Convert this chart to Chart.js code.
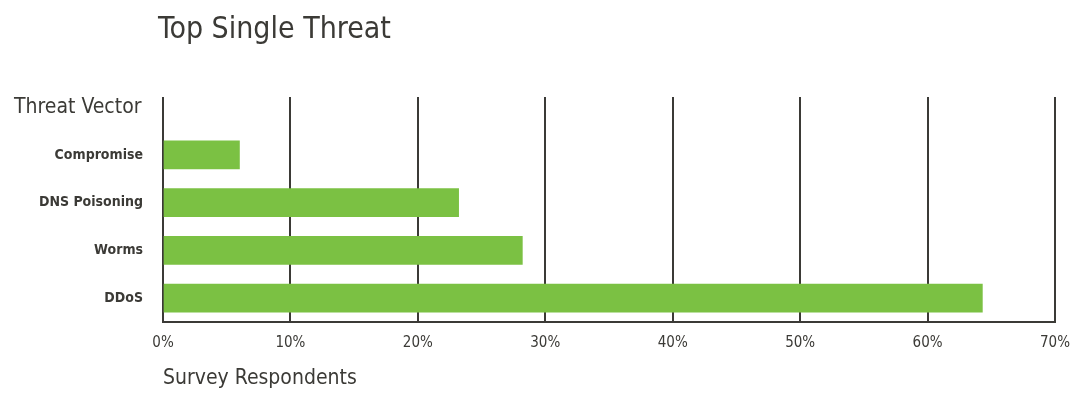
<!DOCTYPE html>
<html>
<head>
<meta charset="utf-8">
<script src="https://cdn.jsdelivr.net/npm/chart.js@4.4.0/dist/chart.umd.min.js"></script>
<style>
  html, body { margin: 0; padding: 0; background: #fff; }
  #wrap { width: 1075px; height: 395px; }
</style>
</head>
<body>
<div id="wrap"><canvas id="myChart"></canvas></div>
<script>
const categories = ['Compromise', 'DNS Poisoning', 'Worms', 'DDoS'];
const respondents = [6.0, 23.2, 28.2, 64.3];
const tickValues = [0, 10, 20, 30, 40, 50, 60, 70];

const FONT = "'DejaVu Sans Condensed', 'Liberation Sans Narrow', sans-serif";
const INK = '#3b3a36';

// extra labels + gridlines running up above the bars
const extras = {
    id: 'extras',
    beforeDatasetsDraw(chart) {
        const c = chart.ctx;
        const x = chart.scales.x;
        const top = chart.chartArea.top;
        c.save();
        c.strokeStyle = INK;
        c.lineWidth = 2;
        tickValues.forEach(v => {
            const px = Math.round(x.getPixelForValue(v));
            c.beginPath();
            c.moveTo(px, top - 34);
            c.lineTo(px, top);
            c.stroke();
        });
        c.restore();
    },
    afterDraw(chart) {
        const c = chart.ctx;
        c.save();
        c.fillStyle = INK;
        c.textBaseline = 'middle';
        c.textAlign = 'left';
        c.font = '30px ' + FONT;
        c.fillText('Top Single Threat', 158, 30);
        c.font = '21px ' + FONT;
        c.fillText('Threat Vector', 14, 108);
        c.restore();
    }
};

const ctx = document.getElementById('myChart');
const myChart = new Chart(ctx, {
    type: 'bar',
    data: {
        labels: categories,
        datasets: [{
            label: 'Survey Respondents',
            data: respondents,
            backgroundColor: '#7bc143',
            borderWidth: 0,
            barThickness: 28
        }]
    },
    options: {
        indexAxis: 'y',
        responsive: true,
        maintainAspectRatio: false,
        animation: false,
        layout: { padding: { top: 131, right: 20, left: 0, bottom: 0 } },
        plugins: {
            legend: { display: false },
            tooltip: { enabled: false }
        },
        scales: {
            x: {
                min: 0,
                max: 70,
                afterFit: s => { s.height = 73; s.paddingLeft = 0; s.paddingRight = 0; },
                afterBuildTicks: s => { s.ticks = tickValues.map(v => ({ value: v })); },
                grid: { color: INK, lineWidth: 2, drawTicks: false },
                border: { color: INK, width: 2 },
                ticks: {
                    padding: 12,
                    color: INK,
                    font: { family: FONT, size: 15 },
                    callback: v => v + '%'
                },
                title: {
                    display: true,
                    text: 'Survey Respondents',
                    align: 'start',
                    color: INK,
                    font: { family: FONT, size: 21 },
                    padding: { top: 14 }
                }
            },
            y: {
                afterFit: s => { s.width = 163; },
                grid: { display: false },
                border: { display: false },
                ticks: {
                    padding: 12,
                    color: INK,
                    font: { family: FONT, size: 14, weight: 'bold' }
                }
            }
        }
    },
    plugins: [extras]
});
</script>
</body>
</html>
